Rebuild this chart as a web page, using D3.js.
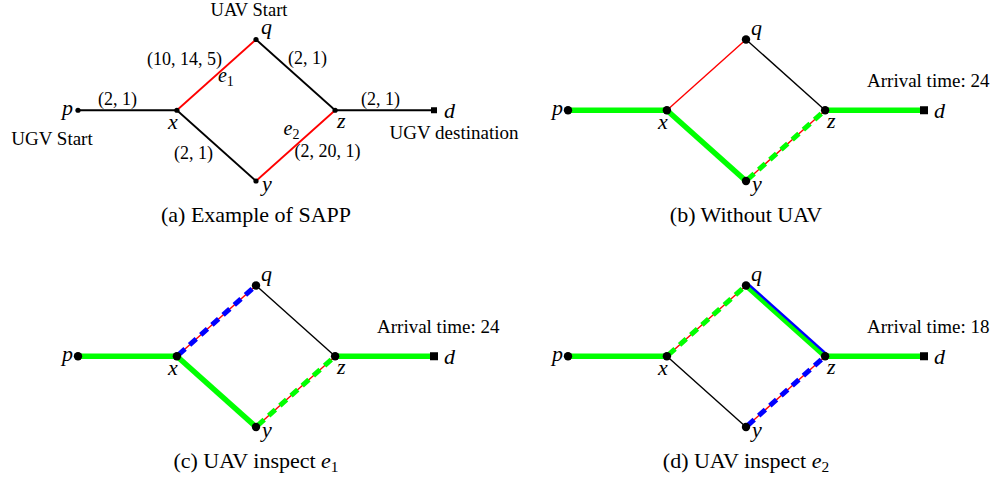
<!DOCTYPE html>
<html><head><meta charset="utf-8">
<script src="https://cdn.jsdelivr.net/npm/d3@7"></script>
<style>body{margin:0;background:#fff} svg{display:block}</style>
</head><body>
<svg id="chart" width="1001" height="479"></svg>
<script>
// ---------- data ----------
const nodes = ["p", "x", "q", "z", "y", "d"];
const nodeX = [0, 2.5, 4.5, 6.5, 4.5, 9];
const nodeY = [0, 0, 1.8, 0, -1.8, 0];
const edgeFrom = ["p", "x", "q", "x", "y", "z"];
const edgeTo   = ["x", "q", "z", "y", "z", "d"];
const edgeLabels = ["(2, 1)", "(10, 14, 5)", "(2, 1)", "(2, 1)", "(2, 20, 1)", "(2, 1)"];
const edgeNames = ["", "e1", "", "", "e2", ""];
const panelLetters = ["a", "b", "c", "d"];
const captions = ["Example of SAPP", "Without UAV", "UAV inspect e1", "UAV inspect e2"];
const arrivalTimes = [null, 24, 24, 18];
const edgeStatesA = ["plain", "risky", "plain", "plain", "risky", "plain"];
const edgeStatesB = ["ugv", "risky", "plain", "ugv", "risky+ugvDash", "ugv"];
const edgeStatesC = ["ugv", "risky+uavDash", "plain", "ugv", "risky+ugvDash", "ugv"];
const edgeStatesD = ["ugv", "risky+ugvDash", "ugv+uav", "plain", "risky+uavDash", "ugv"];
const panelStates = [edgeStatesA, edgeStatesB, edgeStatesC, edgeStatesD];
const annotations = ["UAV Start", "UGV Start", "UGV destination"];

// ---------- layout ----------
const svg = d3.select("#chart");
const FONT = "'Liberation Serif', 'Times New Roman', serif";
const xs = d3.scaleLinear().domain([0, 9]).range([78, 434]);
const ys = d3.scaleLinear().domain([-1.8, 1.8]).range([181, 39.5]);
const panelOffsets = [[0, 0], [490, 0], [0, 246], [490, 246]];
const RED = "#ff0000", GREEN = "#00ff00", BLUE = "#0000ff";

const pos = name => {
  const i = nodes.indexOf(name);
  return [xs(nodeX[i]), ys(nodeY[i])];
};

function subText(sel, base, sub, size) {
  sel.append("tspan").attr("font-style", "italic").text(base);
  sel.append("tspan").attr("font-size", size * 0.7).attr("dy", size * 0.2).text(sub);
}

panelStates.forEach((states, pi) => {
  const g = svg.append("g").attr("transform", `translate(${panelOffsets[pi][0]},${panelOffsets[pi][1]})`);
  const big = pi > 0;
  const thin = big ? 1.4 : 1.8;

  const edges = edgeFrom.map((f, i) => {
    const [x1, y1] = pos(f), [x2, y2] = pos(edgeTo[i]);
    return {x1, y1, x2, y2, state: states[i], label: edgeLabels[i], name: edgeNames[i]};
  });

  // base thin lines
  edges.forEach(e => {
    if (e.state === "ugv" || e.state === "ugv+uav") return;
    g.append("line").attr("x1", e.x1).attr("y1", e.y1).attr("x2", e.x2).attr("y2", e.y2)
      .attr("stroke", e.state.startsWith("risky") ? RED : "#000")
      .attr("stroke-width", thin);
  });
  // thick UGV path
  edges.forEach(e => {
    if (e.state !== "ugv" && e.state !== "ugv+uav") return;
    g.append("line").attr("x1", e.x1).attr("y1", e.y1).attr("x2", e.x2).attr("y2", e.y2)
      .attr("stroke", GREEN).attr("stroke-width", 5.5);
    if (e.state === "ugv+uav") {
      const dx = e.x2 - e.x1, dy = e.y2 - e.y1, L = Math.hypot(dx, dy);
      const ox = 2.6 * dy / L, oy = -2.6 * dx / L;
      g.append("line").attr("x1", e.x1 + ox).attr("y1", e.y1 + oy).attr("x2", e.x2 + ox).attr("y2", e.y2 + oy)
        .attr("stroke", BLUE).attr("stroke-width", 2.4);
    }
  });
  // dashed overlays
  edges.forEach(e => {
    const m = e.state.match(/(ugv|uav)Dash/);
    if (!m) return;
    g.append("line").attr("x1", e.x1).attr("y1", e.y1).attr("x2", e.x2).attr("y2", e.y2)
      .attr("stroke", m[1] === "ugv" ? GREEN : BLUE).attr("stroke-width", 5)
      .attr("stroke-dasharray", "9,6").attr("stroke-dashoffset", 13);
  });

  // nodes
  nodes.forEach((n, i) => {
    const [cx, cy] = pos(n);
    if (n === "d") {
      const s = big ? 8 : 6;
      g.append("rect").attr("x", cx - s / 2).attr("y", cy - s / 2).attr("width", s).attr("height", s).attr("fill", "#000");
    } else {
      g.append("circle").attr("cx", cx).attr("cy", cy).attr("r", big ? 4.2 : 2.6).attr("fill", "#000");
    }
  });

  // node labels
  const lab = {
    p: ["end", -5, 5], x: ["end", 1, 19], q: ["start", 5, big ? -5 : -6],
    z: ["start", 2, 18], y: ["start", 6, 10], d: ["start", 10, 8]
  };
  nodes.forEach(n => {
    const [cx, cy] = pos(n);
    const [anc, dx, dy] = lab[n];
    g.append("text").attr("x", cx + dx).attr("y", cy + dy).attr("text-anchor", anc)
      .attr("font-family", FONT).attr("font-style", "italic").attr("font-size", 22).text(n);
  });

  if (pi === 0) {
    // edge weight labels
    const offs = [[-10, -5], [-32, -10], [12, -11], [-23, 13], [32, 11], [-4, -5]];
    edges.forEach((e, i) => {
      const mx = (e.x1 + e.x2) / 2, my = (e.y1 + e.y2) / 2;
      g.append("text").attr("x", mx + offs[i][0]).attr("y", my + offs[i][1]).attr("text-anchor", "middle")
        .attr("font-family", FONT).attr("font-size", 18).text(e.label);
      if (e.name) {
        const nOff = i === 1 ? [1.5, 7.5] : [-12, -11];
        const t = g.append("text").attr("x", mx + nOff[0]).attr("y", my + nOff[1])
          .attr("font-family", FONT).attr("font-size", 20);
        subText(t, e.name[0], e.name.slice(1), 20);
      }
    });
    // annotations
    const [qx, qy] = pos("q"), [px, py] = pos("p"), [dx0, dy0] = pos("d");
    const annPos = [[qx - 7, qy - 23.5], [px - 26, py + 35], [dx0 + 20, dy0 + 29]];
    annotations.forEach((a, i) => {
      g.append("text").attr("x", annPos[i][0]).attr("y", annPos[i][1]).attr("text-anchor", "middle")
        .attr("font-family", FONT).attr("font-size", i === 0 ? 18.5 : 19).text(a);
    });
  }

  if (arrivalTimes[pi] !== null) {
    g.append("text").attr("x", 377).attr("y", 87).attr("font-family", FONT).attr("font-size", 19)
      .text("Arrival time: " + arrivalTimes[pi]);
  }

  // caption
  const cap = g.append("text").attr("x", 256).attr("y", 222).attr("text-anchor", "middle")
    .attr("font-family", FONT).attr("font-size", 22);
  const m = captions[pi].match(/^(.*) (e)(\d)$/);
  if (m) {
    cap.append("tspan").text(`(${panelLetters[pi]}) ${m[1]} `);
    subText(cap, m[2], m[3], 22);
  } else {
    cap.text(`(${panelLetters[pi]}) ${captions[pi]}`);
  }
});
</script>
</body></html>
